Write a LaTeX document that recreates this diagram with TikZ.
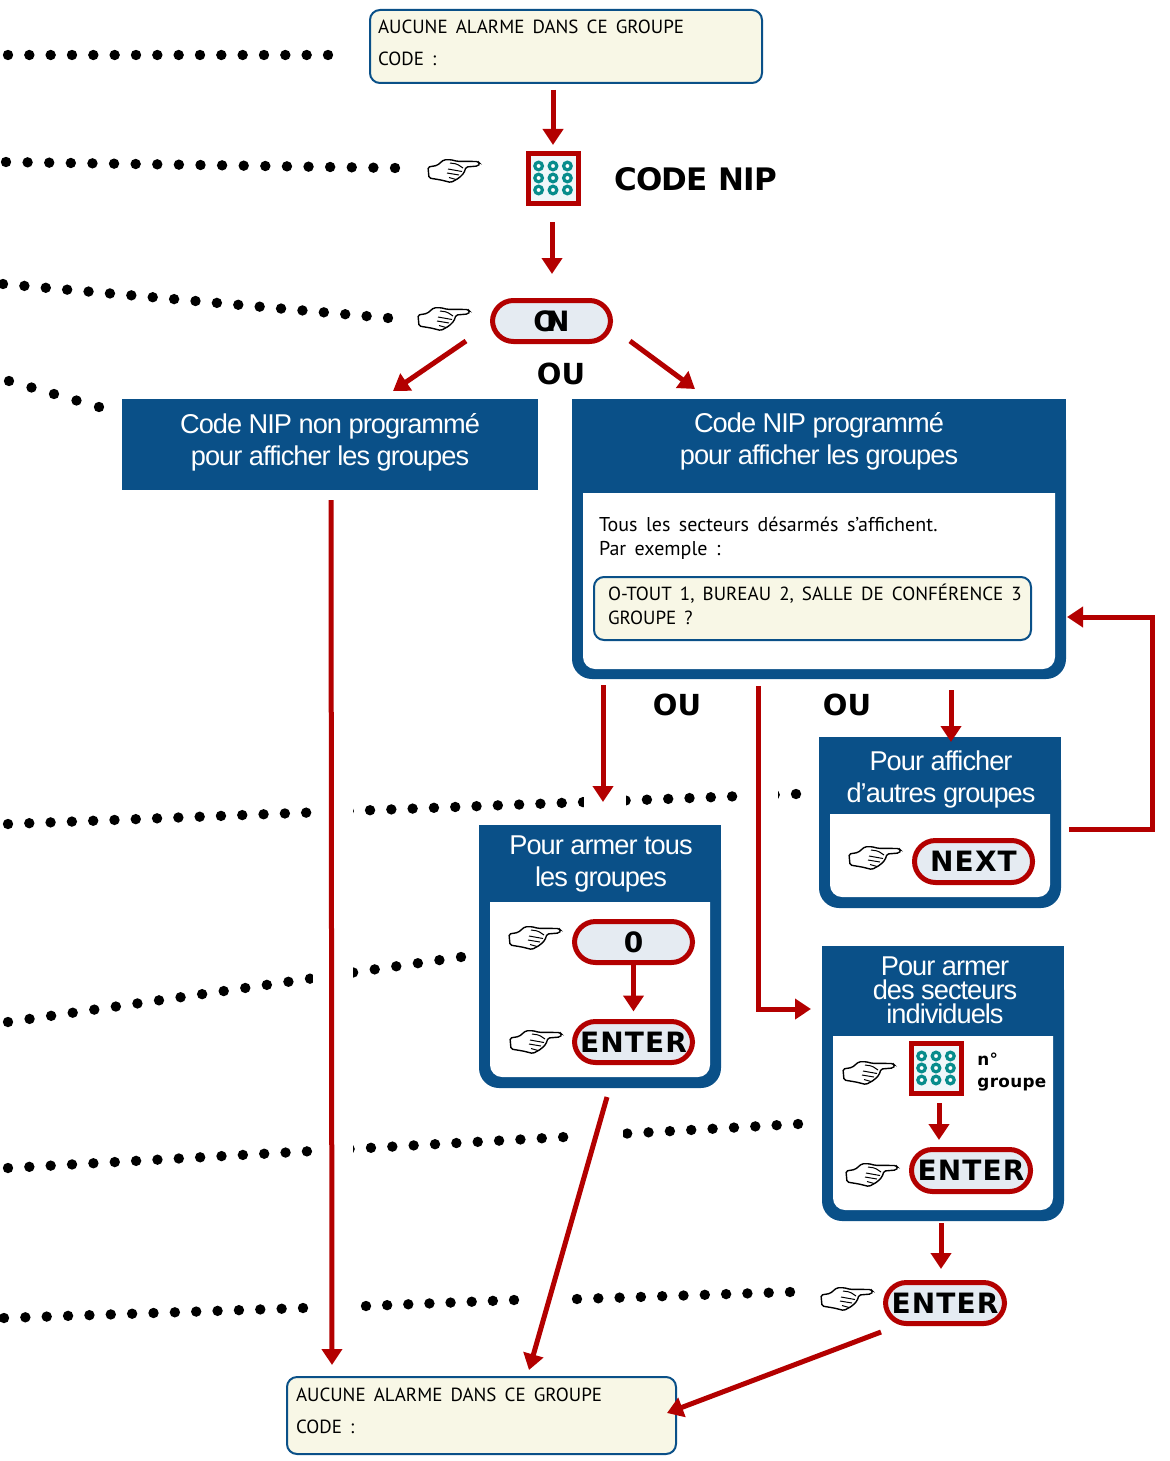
\documentclass[tikz,border=0pt]{standalone}
\usepackage{fontspec}
\usetikzlibrary{arrows.meta,calc}
\setmainfont{Liberation Sans}
\newfontfamily\lcdfont{PT Sans}[WordSpace=1.6]
\newfontfamily\titlefont{Liberation Sans}[LetterSpace=-3.6]
\newfontfamily\boldfont{DejaVu Sans Bold}
\newfontfamily\capsfont{DejaVu Sans Bold}[LetterSpace=-2.5]
\newfontfamily\keyfont{DejaVu Sans Bold}[LetterSpace=4]
\newfontfamily\notefont{DejaVu Sans Bold}[LetterSpace=2]
\definecolor{navy}{HTML}{0A5088}
\definecolor{alarm}{HTML}{B30000}
\definecolor{lcdbg}{HTML}{F8F7E6}
\definecolor{keybg}{HTML}{E5EBF2}
\definecolor{padbg}{HTML}{F0F7FA}
\definecolor{padteal}{HTML}{078C8C}
\tikzset{
  x=0.5pt,y=-0.5pt,
  px box/.style args={#1,#2,#3,#4}{at={({((#1)+(#3))/2},{((#2)+(#4))/2})},
     minimum width={((#3)-(#1))*0.5pt},minimum height={((#4)-(#2))*0.5pt},inner sep=0pt,outer sep=0pt},
  lcd/.style={draw=navy,line width=1pt,fill=lcdbg,rounded corners=5pt},
  lcdtext/.style={font=\lcdfont\fontsize{9.5}{16}\selectfont,text=black,align=left,anchor=north west,inner sep=0pt,outer sep=0pt},
  smalltext/.style={font=\lcdfont\fontsize{10}{12}\selectfont,text=black,align=left,anchor=north west,inner sep=0pt,outer sep=0pt},
  header/.style={fill=navy,text=white,align=center,font=\titlefont\fontsize{13.6}{16}\selectfont},
  frame/.style={fill=navy,rounded corners=10pt},
  paper/.style={fill=white,rounded corners=6pt},
  keycap/.style={draw=alarm,line width=2.5pt,fill=keybg,rounded corners=10.5pt,text=black,font=\keyfont\fontsize{14}{14}\selectfont},
  padframe/.style={draw=alarm,line width=2.5pt,fill=padbg},
  orword/.style={font=\boldfont\fontsize{14.5}{14.5}\selectfont,text=black,inner sep=0pt},
  arr/.style={draw=alarm,line width=2.5pt,-{Triangle[length=8pt,width=10pt]}},
  handicon/.pic={
    \coordinate (-corner) at (0,0);
    \draw[black,line width=0.7pt,fill=white,rounded corners=0.8pt]
      (0,8) -- (1,19) -- (13,21) -- (23,23.5) -- (31,19) -- (36,14) -- (38,8) -- (50,7) -- (52,4.5)
      -- (50,2.5) -- (29,2.3) -- (23,0.7) -- (16,0.7) -- (9,6.5) -- cycle;
    \draw[black,line width=0.5pt,rounded corners=0.8pt]
      (22,4) -- (29,5) -- (35,9) (20,10) -- (34,12.5) (19,14) -- (31,16) (21,18.5) -- (28,20.5);
  },
}
\newcommand{\dotrun}[5]{% x1 y1 x2 y2 n
  \foreach \k in {0,...,#5}{\fill[black] ({#1+(#3-#1)*(\k/#5)},{#2+(#4-#2)*(\k/#5)}) circle[radius=2.6pt];}}
\newcommand{\padkey}[3]{% name x y
  \node[padframe,px box={#2-25,#3-25,#2+25,#3+25}] (#1) {};
  \foreach \i in {-1,0,1}\foreach \j in {-1,0,1}{
    \draw[padteal,line width=1.6pt,fill=white] ({#2+\i*14.4},{#3+\j*12}) circle[radius=1.9pt];}}
\begin{document}
\begin{tikzpicture}
\useasboundingbox (0,0) rectangle (1170,1461);
\fill[white] (0,0) rectangle (1170,1461);
% dotted leaders
\dotrun{8}{55}{328}{55}{15}
\dotrun{6}{162}{395}{168}{18}
\dotrun{3}{284}{388}{318}{18}
\dotrun{9}{381}{99}{407}{4}
\dotrun{8}{824}{796}{794}{37}
\dotrun{8}{1022}{461}{957}{21}
\dotrun{8}{1168}{798}{1124}{37}
\dotrun{4}{1318}{303}{1308}{14}
\dotrun{366}{1306}{514}{1300}{7}
\dotrun{577}{1299}{790}{1292}{10}
\fill[white] (313,800) rectangle (353,830);
\fill[white] (584,790) rectangle (626,815);
\fill[white] (738,785) rectangle (778,805);
\fill[white] (313,965) rectangle (353,990);
\fill[white] (313,1140) rectangle (353,1160);
\fill[white] (572,1125) rectangle (623,1145);
% LCD top
\node[lcd,px box={370,10,762,83}] (lcdA) {};
\node[lcdtext] (lcdAt) at (378,20) {AUCUNE ALARME DANS CE GROUPE\\[0pt]CODE :};
% keypad + code
\pic (handA) at (428,159) {handicon};
\padkey{padA}{553}{178}
\node[font=\capsfont\fontsize{15.5}{16}\selectfont,anchor=west,inner sep=0pt] (codeNip) at (614,179) {CODE NIP};
% ON
\pic (handB) at (418,307) {handicon};
\node[keycap,px box={492.5,300.5,610.5,341.5}] (btnOn) {O\kern-5.5pt N};
\node[orword] (ouA) at (561,374) {OU};
% left header
\fill[navy] (122,470) rectangle (538,490);
\node[header,px box={122,399,538,486}] (hdrL) {Code NIP non programmé\\pour afficher les groupes};
% right box
\node[frame,px box={572,420,1066,679}] (frmR) {};
\node[paper,px box={583,440,1055,669}] (papR) {};
\fill[navy] (572,470) rectangle (1066,493);
\node[header,px box={572,399,1066,483}] (hdrR) {Code NIP programmé\\pour afficher les groupes};
\node[smalltext] (txtR) at (599,517) {Tous les secteurs désarmés s’affichent.\\Par exemple :};
\node[lcd,px box={594,577,1031,640}] (lcdR) {};
\node[lcdtext,font=\lcdfont\fontsize{9.5}{12}\selectfont] (lcdRt) at (608,584) {O-TOUT 1, BUREAU 2, SALLE DE CONFÉRENCE 3\\GROUPE ?};
\node[orword] (ouB) at (677,705) {OU};
\node[orword] (ouC) at (847,705) {OU};
% afficher box
\node[frame,px box={819,760,1061,908}] (frmN) {};
\node[paper,px box={830,780,1050,897}] (papN) {};
\fill[navy] (819,737) rectangle (1061,814);
\node[header,px box={821,745,1061,814}] (hdrN) {Pour afficher\\d’autres groupes};
\pic (handN) at (849,846) {handicon};
\node[keycap,px box={914.5,840.5,1032.5,882.5}] (btnNext) {NEXT};
% armer tous
\node[frame,px box={479,850,721,1088}] (frmT) {};
\node[paper,px box={490,870,710,1077}] (papT) {};
\fill[navy] (479,825) rectangle (721,902);
\node[header,px box={481,825,721,902}] (hdrT) {Pour armer tous\\les groupes};
\pic (handT) at (509,926) {handicon};
\node[keycap,px box={574.5,921.5,692.5,962.5}] (btnZero) {0};
\pic (handE) at (510,1030) {handicon};
\node[keycap,px box={574.5,1021.5,692.5,1062.5}] (btnEntT) {ENTER};
% armer individuels
\node[frame,px box={822,970,1064,1221}] (frmI) {};
\node[paper,px box={833,1000,1053,1210}] (papI) {};
\fill[navy] (822,946) rectangle (1064,1036);
\node[header,px box={826,947,1064,1034},font=\titlefont\fontsize{13.6}{12}\selectfont] (hdrI) {Pour armer\\des secteurs\\individuels};
\pic (handI) at (843,1061) {handicon};
\padkey{padI}{936}{1068}
\node[font=\notefont\fontsize{8.4}{11}\selectfont,align=left,anchor=north west,inner sep=0pt] (grp) at (977,1053) {n°\\groupe};
\pic (handJ) at (846,1163) {handicon};
\node[keycap,px box={911.5,1149.5,1030.5,1191.5}] (btnEntI) {ENTER};
% final enter
\pic (handK) at (821,1287) {handicon};
\node[keycap,px box={885.5,1282.5,1004.5,1323.5}] (btnEntF) {ENTER};
% bottom LCD
\node[lcd,px box={287,1377,676,1454}] (lcdB) {};
\node[lcdtext] (lcdBt) at (296,1388) {AUCUNE ALARME DANS CE GROUPE\\[0pt]CODE :};
% free ends
\coordinate (onL) at (466,341);
\coordinate (onLe) at (393,391);
\coordinate (onR) at (630,341);
\coordinate (onRe) at (695,389);
\coordinate (lS) at (331,500);
\coordinate (lE) at (332,1365);
\coordinate (rA) at (603,685);
\coordinate (rB) at (758,686);
\coordinate (rI) at (811,1009);
\coordinate (rC) at (951,690);
\coordinate (nA) at (1069,829);
\coordinate (nB) at (1152,829);
\coordinate (nC) at (1152,617);
\coordinate (nD) at (1067,617);
\coordinate (tA) at (607,1097);
\coordinate (tB) at (529,1370);
\coordinate (fA) at (881,1332);
\coordinate (fB) at (667,1413);
% connectors
\draw[arr,shorten <=3.5pt,shorten >=4pt] (lcdA.south -| padA.north) -- (padA.north);
\draw[arr,shorten <=9.5pt,shorten >=13.25pt] ($(padA.south)+(-1,0)$) -- ($(padA.south |- btnOn.north)+(-1,0)$);
\draw[arr] (onL) -- (onLe);
\draw[arr] (onR) -- (onRe);
\draw[arr] (lS) -- (lE);
\draw[arr,shorten >=11.5pt] (rA) -- (rA |- hdrT.north);
\draw[arr] (rB) |- (rI);
\draw[arr,shorten >=1.5pt] (rC) -- (rC |- hdrN.north);
\draw[arr] (nA) -- (nB) -- (nC) -- (nD);
\draw[arr,shorten >=5pt] (btnZero.south) -- (btnZero.south |- btnEntT.north);
\draw[arr] (tA) -- (tB);
\draw[arr,shorten <=5pt,shorten >=4.75pt] ($(padI.south)+(3,0)$) -- ($(padI.south |- btnEntI.north)+(3,0)$);
\draw[arr,shorten <=1pt,shorten >=6.75pt] ($(frmI.south)+(-2,0)$) -- ($(frmI.south |- btnEntF.north)+(-2,0)$);
\draw[arr] (fA) -- (fB);
\end{tikzpicture}
\end{document}
